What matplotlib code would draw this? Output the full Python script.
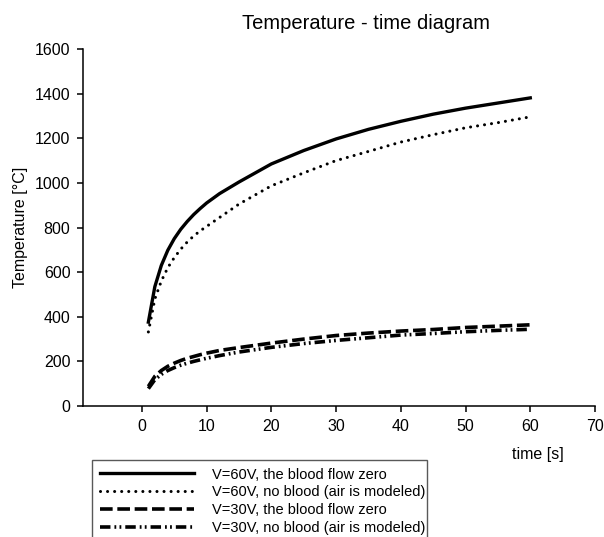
import matplotlib
matplotlib.use("Agg")
import matplotlib.pyplot as plt

plt.rcParams['font.family'] = ['Liberation Sans', 'DejaVu Sans']

# time [s]
t = [1, 2, 3, 4, 5, 6, 7, 8, 9, 10, 12, 15, 20, 25, 30, 35, 40, 45, 50, 55, 60]

# temperatures [°C]
v60_blood_zero = [376, 535, 630, 698, 750, 792, 827, 858, 885, 910, 952, 1004,
                  1085, 1145, 1197, 1240, 1276, 1308, 1335, 1358, 1381]
v60_air = [332, 480, 560, 620, 665, 703, 735, 762, 785, 805, 845, 905,
           987, 1045, 1100, 1141, 1183, 1216, 1247, 1270, 1296]
v30_blood_zero = [88, 133, 159, 178, 192, 204, 214, 222, 230, 237, 249, 262,
                  282, 300, 316, 327, 336, 343, 352, 358, 364]
v30_air = [78, 118, 142, 159, 172, 183, 192, 200, 207, 214, 226, 242,
           263, 280, 294, 306, 318, 325, 333, 339, 344]

labels = ["V=60V, the blood flow zero",
          "V=60V, no blood (air is modeled)",
          "V=30V, the blood flow zero",
          "V=30V, no blood (air is modeled)"]

fig = plt.figure(figsize=(6.04, 5.37), dpi=100)
ax = fig.add_axes([0.1374, 0.2439, 0.8477, 0.6648])

ax.plot(t, v60_blood_zero, color='black', lw=2.4, label=labels[0])
ax.plot(t, v60_air, color='black', lw=2.2, dashes=(0.01, 2.3),
        dash_capstyle='round', label=labels[1])
ax.plot(t, v30_blood_zero, color='black', lw=2.6, dashes=(3.5, 1.3),
        label=labels[2])
ax.plot(t, v30_air, color='black', lw=2.6,
        dashes=(2.9, 1.1, 0.5, 0.9, 0.5, 1.1), label=labels[3])

ax.set_xlim(-9.1, 70)
ax.set_ylim(0, 1600)
ax.set_xticks(range(0, 71, 10))
ax.set_yticks(range(0, 1601, 200))

for s in ['top', 'right']:
    ax.spines[s].set_visible(False)
for s in ['left', 'bottom']:
    ax.spines[s].set_linewidth(1.1)
ax.tick_params(direction='out', length=4, width=1.1, labelsize=11.5, pad=5)

ax.set_ylabel("Temperature [°C]", fontsize=11.5)
ax.yaxis.set_label_coords(-0.108, 0.5)
ax.set_xlabel("time [s]", fontsize=11.5)
ax.xaxis.set_label_coords(0.889, -0.115)

fig.text(0.606, 0.956, "Temperature - time diagram", fontsize=14.5,
         ha='center', va='center')

leg = fig.legend(loc='upper left', mode='expand',
                 bbox_to_anchor=(85 / 604, 0, (434 - 85) / 604, 1 - 453 / 537),
                 fontsize=10.5, frameon=True, fancybox=False, framealpha=1,
                 edgecolor='0.35', borderpad=0.5, labelspacing=0.26,
                 handlelength=6.5, handletextpad=1.2)
leg.get_frame().set_linewidth(1.0)

fig.savefig("out.png", dpi=100, facecolor='white')
